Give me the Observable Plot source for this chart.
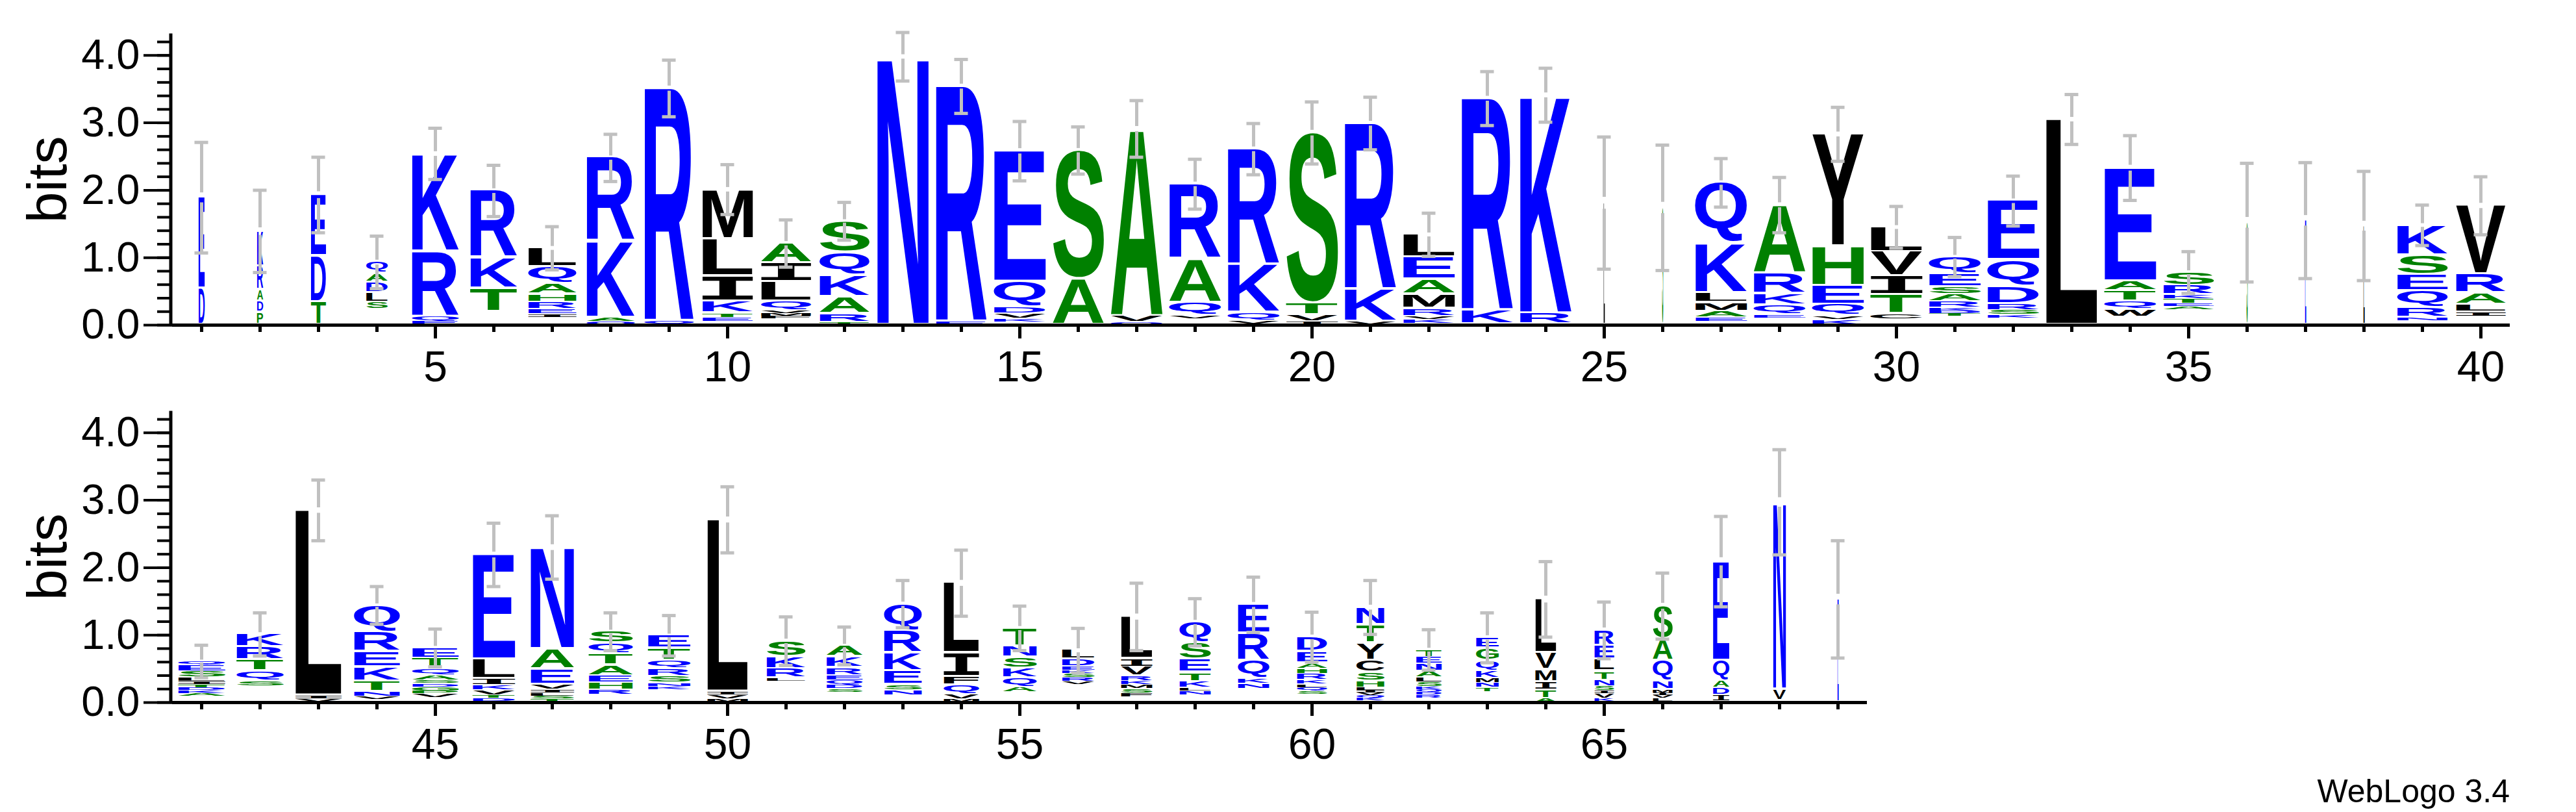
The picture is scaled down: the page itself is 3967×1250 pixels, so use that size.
<!DOCTYPE html>
<html>
<head>
<meta charset="utf-8">
<script src="https://cdn.jsdelivr.net/npm/d3@7"></script>
<script src="https://cdn.jsdelivr.net/npm/@observablehq/plot@0.6"></script>
<style>
  html, body { margin: 0; padding: 0; background: #ffffff; }
  body { width: 3967px; height: 1250px; overflow: hidden; position: relative; font-family: "Liberation Sans", Arial, sans-serif; }
  #chart svg { display: block; }
  #credit { position: absolute; right: 102px; top: 1193px; font-size: 50px; line-height: 50px; color: #000; font-family: "Liberation Sans", Arial, sans-serif; }
</style>
</head>
<body>
<div id="chart"></div>
<div id="credit">WebLogo 3.4</div>
<script>
// ---------------- DATA ----------------
const positions = d3.range(1, 70);

// letters of each stack, listed top -> bottom
const stackLetters = [
  "ED", "KRADP", "EDT", "QADLS", "KRQE", "RKT", "LQAHREI", "RKAQ", "RQ", "MLIKTE",
  "AILQVMF", "SQKART", "N", "RE", "EQDVK", "SA", "AVQ", "RAQV", "RKQV", "STVI",
  "RKV", "LEAMRVK", "RK", "KR", "L", "S", "QKLMAE", "ARKQE", "YHEQVK", "LVITC",
  "QESARKDT", "EQDRSK", "L", "EATQW", "SRKTEA", "S", "E", "L", "KSEQRN", "VRALI",
  "QESLITDKA", "KRTQS", "LIV", "QREKTNV", "ETQASDGPV", "ELIKVTD", "NAEVILST", "SQTAEHR", "ETQRSNK", "LIVM",
  "SKRL", "AKREQDS", "QRKESN", "LIFQVM", "TNSKQA", "LDEKSRV", "LIVRKMSF", "QSETKLN", "ERQKN", "DEAHRKLQS",
  "NTYCSHLIVQK", "TENALSKQDR", "EGQKMNT", "LVMITA", "RELTNSIVK", "SAQNMIVL", "EQADI", "NV", "E"
];

// letter heights in bits, same order as stackLetters (top -> bottom)
const stackHeights = [
  [1.35,0.54], [0.52,0.35,0.17,0.17,0.18], [0.91,0.68,0.34], [0.17,0.13,0.16,0.13,0.11], [1.45,0.96,0.07,0.06],
  [0.99,0.46,0.35], [0.28,0.25,0.16,0.11,0.11,0.07,0.05], [1.24,1.13,0.06,0.05], [3.45,0.06], [0.74,0.55,0.37,0.18,0.06,0.06],
  [0.29,0.28,0.29,0.14,0.04,0.04,0.04], [0.47,0.34,0.32,0.25,0.12,0.04], [3.98], [3.49,0.05], [1.94,0.38,0.09,0.08,0.05],
  [1.91,0.68], [2.78,0.09,0.04], [1.11,0.65,0.19,0.05], [1.71,0.72,0.12,0.04], [2.53,0.18,0.09,0.04],
  [2.46,0.48,0.04], [0.34,0.33,0.22,0.21,0.11,0.05,0.06], [3.14,0.21], [3.24,0.16], [1.81],
  [1.74], [0.90,0.74,0.14,0.13,0.09,0.06], [1.01,0.31,0.17,0.14,0.05], [1.66,0.59,0.28,0.17,0.05,0.08], [0.37,0.36,0.28,0.28,0.07],
  [0.26,0.19,0.11,0.10,0.09,0.05,0.04,0.04], [0.88,0.39,0.26,0.09,0.07,0.05], [3.05], [1.68,0.14,0.16,0.12,0.11], [0.20,0.13,0.06,0.07,0.04,0.05],
  [1.52], [1.55], [1.47], [0.45,0.29,0.24,0.25,0.14,0.05], [1.02,0.28,0.17,0.11,0.06],
  [0.06,0.09,0.09,0.06,0.05,0.04,0.04,0.05,0.04], [0.19,0.19,0.17,0.14,0.08], [2.75,0.05,0.04], [0.40,0.29,0.23,0.21,0.15,0.07,0.05], [0.16,0.15,0.10,0.07,0.05,0.05,0.06,0.04,0.06],
  [1.55,0.29,0.09,0.08,0.08,0.04,0.05], [1.51,0.30,0.23,0.07,0.05,0.05,0.04,0.05], [0.18,0.15,0.17,0.16,0.10,0.10,0.08], [0.19,0.18,0.12,0.11,0.10,0.05,0.05], [2.55,0.05,0.06,0.04],
  [0.24,0.18,0.13,0.05], [0.17,0.16,0.11,0.07,0.07,0.06,0.05], [0.40,0.33,0.27,0.20,0.08,0.07], [1.04,0.35,0.12,0.14,0.07,0.04], [0.27,0.17,0.16,0.14,0.13,0.08],
  [0.13,0.11,0.06,0.04,0.06,0.06,0.04], [0.62,0.13,0.13,0.07,0.06,0.06,0.06,0.06], [0.31,0.25,0.19,0.13,0.09,0.05,0.06], [0.43,0.40,0.27,0.07,0.08], [0.22,0.17,0.08,0.08,0.09,0.06,0.05,0.05,0.05],
  [0.26,0.27,0.26,0.18,0.13,0.09,0.04,0.04,0.04,0.03,0.05], [0.11,0.10,0.11,0.09,0.07,0.07,0.04,0.04,0.04,0.05], [0.16,0.19,0.15,0.10,0.07,0.07,0.06], [0.80,0.25,0.18,0.12,0.12,0.06], [0.23,0.20,0.18,0.13,0.09,0.07,0.04,0.07,0.05],
  [0.49,0.32,0.30,0.13,0.05,0.04,0.04,0.05], [1.47,0.30,0.10,0.11,0.09], [2.78,0.17], [1.53]
];

// invisible part at the bottom of each stack (bits)
const stackBase = [
  0, 0, 0, 0.23, 0, 0.19, 0.11, 0, 0, 0.05,
  0.09, 0, 0, 0, 0.04, 0, 0, 0.09, 0.02, 0.01,
  0.01, 0.02, 0.01, 0.01, 0, 0, 0.05, 0.10, 0, 0.09,
  0.13, 0.10, 0, 0.12, 0.23, 0, 0, 0, 0.06, 0.13,
  0.09, 0.24, 0.01, 0.04, 0.07, 0.01, 0, 0.11, 0.19, 0.01,
  0.31, 0.15, 0.11, 0.01, 0.15, 0.27, 0.08, 0.11, 0.20, 0.12,
  0.02, 0.06, 0.16, 0, 0.01, 0.01, 0.02, 0.02, 0
];

// stack width as a fraction of the column
const columnWidth = [
  0.105, 0.105, 0.26, 0.37, 0.81, 0.81, 0.83, 0.83, 0.85, 0.87,
  0.86, 0.86, 0.89, 0.88, 0.89, 0.88, 0.89, 0.89, 0.89, 0.89,
  0.89, 0.89, 0.89, 0.89, 0.02, 0.02, 0.89, 0.89, 0.89, 0.89,
  0.89, 0.89, 0.89, 0.89, 0.87, 0.02, 0.02, 0.02, 0.87, 0.86,
  0.81, 0.81, 0.80, 0.79, 0.80, 0.73, 0.75, 0.76, 0.73, 0.70,
  0.67, 0.62, 0.65, 0.61, 0.58, 0.56, 0.54, 0.54, 0.54, 0.52,
  0.48, 0.44, 0.39, 0.36, 0.34, 0.34, 0.28, 0.22, 0.02
];

// error bar half-length (bits)
const errorBars = [
  0.82, 0.61, 0.56, 0.39, 0.38, 0.38, 0.32, 0.35, 0.42, 0.37,
  0.35, 0.28, 0.36, 0.40, 0.44, 0.35, 0.42, 0.37, 0.38, 0.46,
  0.39, 0.32, 0.40, 0.40, 0.98, 0.93, 0.36, 0.41, 0.40, 0.31,
  0.29, 0.37, 0.37, 0.48, 0.31, 0.88, 0.86, 0.81, 0.30, 0.43,
  0.24, 0.32, 0.45, 0.28, 0.28, 0.47, 0.47, 0.28, 0.30, 0.49,
  0.36, 0.28, 0.35, 0.49, 0.33, 0.33, 0.50, 0.35, 0.41, 0.37,
  0.40, 0.30, 0.37, 0.56, 0.42, 0.49, 0.67, 0.78, 0.87
];

const yMajorTicks = [0, 1, 2, 3, 4];
const yMinorTicks = d3.range(0, 4.3, 0.2);
const rowRanges = [[1, 40], [41, 69]];
const yMax = 4.32;

// hydrophobicity colour scheme
const hydrophilic = "RKDENQ";
const neutral = "SGHTAP";
function letterColor(ch) {
  if (hydrophilic.includes(ch)) return "#0000ff";
  if (neutral.includes(ch)) return "#008000";
  return "#000000";
}
function letterFont(ch) { return ch === "I" ? "DejaVu Sans Mono" : "Liberation Sans"; }

// ---------------- build tables ----------------
const letterRows = [];
const stackTops = [];
positions.forEach((p, i) => {
  const ls = stackLetters[i].split("");
  const hs = stackHeights[i];
  let y = stackBase[i];
  for (let k = ls.length - 1; k >= 0; k--) {
    letterRows.push({pos: p, letter: ls[k], y1: y, y2: y + hs[k], w: columnWidth[i]});
    y += hs[k];
  }
  stackTops.push({pos: p, top: y, e: errorBars[i]});
});

// glyph ink metrics
const cnv = document.createElement("canvas");
const ctx = cnv.getContext("2d");
const metricCache = {};
function inkMetrics(ch) {
  const key = ch;
  if (!metricCache[key]) {
    ctx.font = `bold 100px "${letterFont(ch)}"`;
    const t = ctx.measureText(ch);
    metricCache[key] = {l: t.actualBoundingBoxLeft, r: t.actualBoundingBoxRight, a: t.actualBoundingBoxAscent, d: t.actualBoundingBoxDescent};
  }
  return metricCache[key];
}

function scaleFn(s) {
  if (s && typeof s.apply === "function") return v => s.apply(v);
  const [d0, d1] = s.domain, [r0, r1] = s.range;
  return v => r0 + (v - d0) / (d1 - d0) * (r1 - r0);
}

function panel(lo, hi, marginTop, marginRight) {
  const marginBottom = 90;
  const height = marginTop + 448.4 + marginBottom;
  const rows = letterRows.filter(d => d.pos >= lo && d.pos <= hi);
  const tops = stackTops.filter(d => d.pos >= lo && d.pos <= hi);
  const upper = tops.map(d => ({pos: d.pos, y1: d.top + 0.09 * d.e, y2: d.top + d.e}));
  const lower = tops.map(d => ({pos: d.pos, y1: d.top - d.e, y2: d.top - 0.09 * d.e}));
  const caps = tops.flatMap(d => [{pos: d.pos, y: d.top + d.e}, {pos: d.pos, y: d.top - d.e}]);
  const gray = "#c0c0c0";
  const majors = d3.range(Math.ceil(lo / 5) * 5, hi + 1, 5);
  const minors = d3.range(lo, hi + 1);

  const plot = Plot.plot({
    width: 3967,
    height,
    marginLeft: 265,
    marginRight,
    marginTop,
    marginBottom,
    style: {background: "#ffffff", fontFamily: "Liberation Sans, Arial, sans-serif", overflow: "visible"},
    x: {domain: [lo - 0.5, hi + 0.5]},
    y: {domain: [0, yMax]},
    color: {type: "identity"},
    marks: [
      Plot.text(rows, {
        x: "pos", y: "y1", text: "letter",
        fill: d => letterColor(d.letter),
        fontSize: 100, fontWeight: "bold", fontFamily: "Liberation Sans",
        textAnchor: "start", lineAnchor: "bottom",
        ariaLabel: "logo-letters"
      }),
      Plot.ruleX(upper, {x: "pos", y1: "y1", y2: "y2", stroke: gray, strokeWidth: 5}),
      Plot.ruleX(lower, {x: "pos", y1: "y1", y2: "y2", stroke: gray, strokeWidth: 5}),
      Plot.ruleY(caps, {y: "y", x1: d => d.pos - 0.117, x2: d => d.pos + 0.117, stroke: gray, strokeWidth: 5}),
      Plot.axisY({ticks: yMinorTicks, tickSize: 23, tickFormat: () => "", strokeWidth: 4, label: null}),
      Plot.axisY({ticks: yMajorTicks, tickSize: 44, tickPadding: 6, tickFormat: d => d.toFixed(1), fontSize: 65, strokeWidth: 4, label: null}),
      Plot.axisX({ticks: minors, tickSize: 11, tickFormat: () => "", strokeWidth: 5, label: null}),
      Plot.axisX({ticks: majors, tickSize: 21, tickPadding: 19, tickFormat: d => String(d), fontSize: 66, strokeWidth: 5, label: null}),
      Plot.ruleX([lo - 0.5], {y1: 0, y2: yMax, strokeWidth: 5, dx: -2.5}),
      Plot.ruleY([0], {strokeWidth: 5}),
      Plot.text(["bits"], {frameAnchor: "left", dx: -164, rotate: -90, fontSize: 86, textAnchor: "middle", lineAnchor: "bottom"})
    ]
  });

  // stretch each glyph to fill its box, using the plot's own scales
  const X = scaleFn(plot.scale("x"));
  const Y = scaleFn(plot.scale("y"));
  let g = plot.querySelector('g[aria-label="logo-letters"]');
  if (!g) g = plot.querySelector('g[aria-label="text"]');
  const texts = g ? Array.from(g.querySelectorAll("text")) : [];
  texts.forEach((el, i) => {
    const d = rows[i];
    if (!d) return;
    const colPx = X(d.pos + 0.5) - X(d.pos - 0.5);
    const w = colPx * d.w;
    const x0 = X(d.pos) - w / 2;
    const yb = Y(d.y1), yt = Y(d.y2);
    const hPx = yb - yt;
    const gap = Math.min(3.5, hPx * 0.2);
    const inkH = Math.max(0.5, hPx - gap);
    const m = inkMetrics(d.letter);
    const sx = w / (m.l + m.r);
    const sy = inkH / (m.a + m.d);
    ["x", "y", "dx", "dy"].forEach(a => el.removeAttribute(a));
    el.setAttribute("font-family", letterFont(d.letter));
    el.setAttribute("font-weight", "bold");
    el.setAttribute("font-size", "100");
    el.setAttribute("text-anchor", "start");
    el.setAttribute("transform", `translate(${x0},${yb - gap}) scale(${sx},${sy}) translate(${m.l},${-m.d})`);
  });
  return plot;
}

const chart = document.getElementById("chart");
chart.appendChild(panel(rowRanges[0][0], rowRanges[0][1], 51.6, 102));
chart.appendChild(panel(rowRanges[1][0], rowRanges[1][1], 42.6, 1092));
</script>
</body>
</html>
